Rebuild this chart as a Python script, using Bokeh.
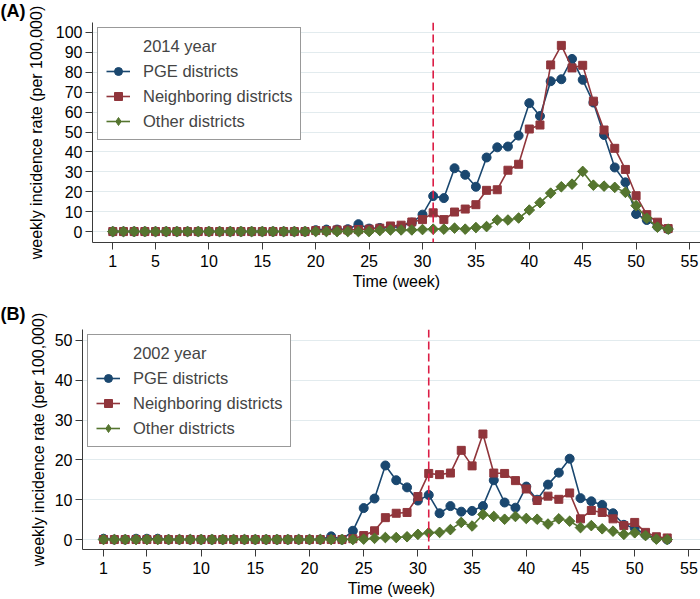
import numpy as np
from bokeh.plotting import figure
from bokeh.models import Legend, LegendItem, Span, FixedTicker, Range1d
from bokeh.embed import file_html
from bokeh.resources import INLINE

weeks = list(range(1, 54))

pge_2014 = [0]*19 + [0.7, 1.0, 1.0, 1.2, 3.7, 1.5, 1.8, 2.0, 2.5, 4.5, 8.5, 17.8, 16.8, 31.8, 28.5,
                     22.5, 37.2, 42.3, 42.7, 48.2, 64.5, 58.0, 75.5, 76.5, 86.7, 76.2, 64.8, 48.5,
                     32.2, 24.7, 8.8, 5.8, 2.5, 1.2]
neigh_2014 = [0]*19 + [0.5, 0.5, 0.8, 0.8, 1.0, 1.2, 1.7, 2.8, 3.2, 4.8, 6.0, 9.4, 6.0, 9.8, 11.3,
                       13.5, 20.7, 21.0, 30.8, 33.8, 51.5, 53.5, 83.7, 93.5, 82.2, 83.5, 65.5, 51.0,
                       41.8, 31.2, 18.0, 8.5, 4.7, 1.5]
other_2014 = [0]*25 + [0.5, 0.8, 0.8, 0.8, 1.0, 1.2, 1.2, 1.7, 1.2, 2.0, 2.5, 5.8, 5.8, 6.8, 10.8,
                       14.5, 19.3, 22.5, 23.8, 30.2, 23.3, 22.8, 22.2, 19.7, 13.0, 6.7, 2.2, 1.2]

pge_2002 = [0.2, 0, 0, 0.2, 0.2, 0.2] + [0]*15 + [0.8, 0.0, 2.2, 7.9, 10.3, 18.6, 14.9, 13.1, 9.8,
                                                  11.2, 6.6, 8.4, 7.0, 7.2, 8.4, 14.9, 9.3, 8.0, 13.3,
                                                  10.0, 13.8, 16.8, 20.3, 10.4, 9.6, 8.7, 6.6, 3.7,
                                                  2.9, 1.2, 0.3, 0.0]
neigh_2002 = [0]*23 + [0.2, 1.0, 2.2, 5.5, 6.6, 6.8, 10.8, 16.6, 16.3, 16.7, 22.4, 18.5, 26.5, 16.7,
                       16.6, 14.8, 12.7, 9.8, 10.9, 10.1, 11.7, 5.2, 7.3, 6.8, 5.2, 3.5, 4.3, 1.8,
                       0.7, 0.4]
other_2002 = [0]*24 + [0.1, 0.3, 0.5, 0.5, 0.7, 1.3, 1.7, 1.8, 2.5, 4.3, 3.4, 6.3, 5.8, 5.1, 5.8,
                       5.3, 5.1, 3.9, 5.2, 4.6, 3.0, 3.5, 2.7, 2.1, 1.3, 1.7, 1.0, 0.1, 0.0]

x_ticks = [1, 5, 10, 15, 20, 25, 30, 35, 40, 45, 50, 55]
y_ticks_2014 = [0, 10, 20, 30, 40, 50, 60, 70, 80, 90, 100]
y_ticks_2002 = [0, 10, 20, 30, 40, 50]
series_names = ["PGE districts", "Neighboring districts", "Other districts"]
intervention_week = 31

FONT = "Liberation Sans"
COLORS = ["#1a476f", "#90353b", "#55752f"]
VLINE = "#dc1e46"
AXIS = "#3a3a3a"


def make_panel(tag, year_label, data, y_rng, y_ticks, x_rng, height, b_top, frame_h, b_left,
               tag_standoff, ylab_standoff):
    p = figure(width=700, height=height, x_range=Range1d(*x_rng), y_range=Range1d(*y_rng),
               output_backend="svg", toolbar_location=None, title=tag,
               min_border_left=b_left, min_border_right=0, min_border_top=b_top,
               min_border_bottom=height - b_top - frame_h)
    p.title.align = "left"
    p.title.vertical_align = "top"
    p.title.offset = -b_left
    p.title.standoff = tag_standoff
    p.title.text_font = FONT
    p.title.text_font_size = "18px"
    p.title.text_font_style = "bold"
    p.title.text_color = "black"

    p.outline_line_color = None
    p.background_fill_color = "white"
    p.xgrid.visible = False
    p.ygrid.grid_line_color = "#e2ebee"
    p.ygrid.grid_line_width = 1

    for ax in (p.xaxis, p.yaxis):
        ax.axis_line_color = AXIS
        ax.major_tick_line_color = AXIS
        ax.minor_tick_line_color = None
        ax.major_tick_out = 7
        ax.major_tick_in = 0
        ax.major_label_text_font = FONT
        ax.major_label_text_font_size = "16px"
        ax.major_label_text_color = "black"
        ax.axis_label_text_font = FONT
        ax.axis_label_text_font_size = "16px"
        ax.axis_label_text_font_style = "normal"
        ax.axis_label_text_color = "black"
    p.xaxis.ticker = FixedTicker(ticks=x_ticks)
    p.yaxis.ticker = FixedTicker(ticks=y_ticks)
    p.xaxis.axis_label = "Time (week)"
    p.yaxis.axis_label = "weekly incidence rate (per 100,000)"
    p.xaxis.major_label_standoff = 5
    p.yaxis.major_label_standoff = 3
    p.xaxis.axis_label_standoff = 3
    p.yaxis.axis_label_standoff = ylab_standoff

    dummy = p.line(x=[], y=[], line_alpha=0)
    items = [LegendItem(label=year_label, renderers=[dummy])]
    for i, (name, vals, col) in enumerate(zip(series_names, data, COLORS)):
        l = p.line(weeks, vals, line_color=col, line_width=1.6)
        if i == 0:
            s = p.scatter(weeks, vals, marker="circle", size=9, fill_color=col, line_color=col)
        elif i == 1:
            s = p.scatter(weeks, vals, marker="square", size=8, fill_color=col, line_color=col)
        else:
            # diamond (hidden under the rotated squares) provides the legend glyph
            s = p.scatter(weeks, vals, marker="diamond", size=9.5, fill_color=col, line_color=col)
            p.scatter(weeks, vals, marker="square", size=7.5, angle=np.pi / 4,
                      fill_color=col, line_color=col)
        items.append(LegendItem(label=name, renderers=[l, s]))

    p.add_layout(Span(location=intervention_week, dimension="height", line_color=VLINE,
                      line_dash="8 4", line_width=1.6))

    legend = Legend(items=items, location="top_left", margin=5, padding=8, spacing=5,
                    glyph_width=24, glyph_height=20, label_height=20, label_standoff=13,
                    label_text_font=FONT, label_text_font_size="16.5px",
                    border_line_color="#333333", border_line_width=1,
                    background_fill_color="white", background_fill_alpha=1)
    p.add_layout(legend)
    return p


pA = make_panel("(A)", "2014 year", [pge_2014, neigh_2014, other_2014], (-5.5, 105),
                y_ticks_2014, (-0.90, 56.03), 300, 21, 221, 92, 0, 8)
pB = make_panel("(B)", "2002 year", [pge_2002, neigh_2002, other_2002], (-2.5, 52.75),
                y_ticks_2002, (-0.94, 56.07), 299, 28, 221, 82, 7, 5)

open("out.html", "w").write(file_html([pA, pB], INLINE))
